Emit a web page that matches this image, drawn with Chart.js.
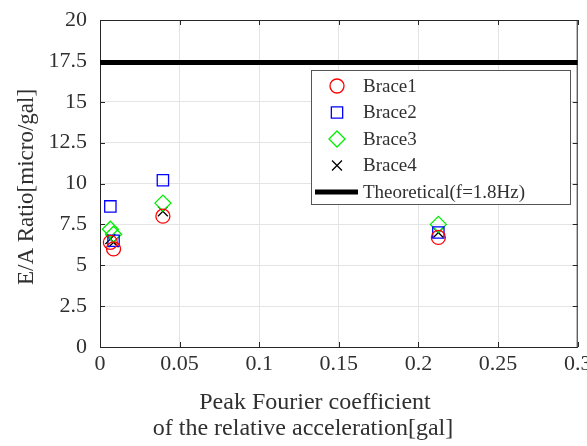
<!DOCTYPE html>
<html>
<head>
<meta charset="utf-8">
<script src="https://cdn.jsdelivr.net/npm/chart.js@4.4.1/dist/chart.umd.min.js"></script>
<style>
  body { margin: 0; background: #ffffff; }
  #wrap { width: 587px; height: 446px; }
</style>
</head>
<body>
<div id="wrap"><canvas id="myChart" width="587" height="446"></canvas></div>
<script>
// peak Fourier coefficient of each record [gal]
const peakCoef = [0.0065, 0.0085, 0.0395, 0.2125];
// E/A ratio per brace [micro/gal]
const brace1 = [6.4, 6.0, 8.0, 6.7];
const brace2 = [8.6, 6.5, 10.2, 7.0];
const brace3 = [7.2, 6.9, 8.8, 7.5];
const brace4 = [6.6, 6.4, 8.3, 7.0];
const theoretical = 17.4;
const xRange = [0, 0.3];
const seriesNames = ['Brace1', 'Brace2', 'Brace3', 'Brace4', 'Theoretical(f=1.8Hz)'];

const serif = "'Liberation Serif', 'DejaVu Serif', serif";
const textColor = '#303030';

function toPoints(ys){
    return ys.map((y, i) => ({x: peakCoef[i], y: y}));
}

function fmt(v){
    return String(+Number(v).toFixed(4));
}

// draws one marker in the same way for the legend
function marker(ctx, style, x, y, r, color){
    ctx.save();
    ctx.strokeStyle = color;
    ctx.lineWidth = 1.3;
    ctx.beginPath();
    if (style === 'circle'){
        ctx.arc(x, y, r, 0, Math.PI * 2);
    } else if (style === 'rect'){
        const s = r * Math.SQRT1_2;
        ctx.rect(x - s, y - s, 2 * s, 2 * s);
    } else if (style === 'rectRot'){
        ctx.moveTo(x - r, y); ctx.lineTo(x, y - r); ctx.lineTo(x + r, y); ctx.lineTo(x, y + r); ctx.closePath();
    } else if (style === 'crossRot'){
        const s = r * Math.SQRT1_2;
        ctx.moveTo(x - s, y - s); ctx.lineTo(x + s, y + s);
        ctx.moveTo(x - s, y + s); ctx.lineTo(x + s, y - s);
    }
    ctx.stroke();
    ctx.restore();
}

const framePlugin = {
    id: 'frame',
    beforeDatasetsDraw(chart){
        const ctx = chart.ctx;
        const a = chart.chartArea;
        const xs = chart.scales.x, ys = chart.scales.y;
        ctx.save();
        ctx.strokeStyle = '#262626';
        ctx.lineWidth = 1;
        ctx.strokeRect(a.left + 0.5, a.top + 0.5, a.right - a.left - 1, a.bottom - a.top);
        ctx.beginPath();
        xs.ticks.forEach(t => {
            const px = Math.round(xs.getPixelForValue(t.value)) + 0.5;
            ctx.moveTo(px, a.bottom); ctx.lineTo(px, a.bottom - 5);
            ctx.moveTo(px, a.top); ctx.lineTo(px, a.top + 5);
        });
        ys.ticks.forEach(t => {
            const py = Math.round(ys.getPixelForValue(t.value)) + 0.5;
            ctx.moveTo(a.left, py); ctx.lineTo(a.left + 5, py);
            ctx.moveTo(a.right, py); ctx.lineTo(a.right - 5, py);
        });
        ctx.stroke();
        ctx.restore();
    },
    afterDraw(chart){
        const ctx = chart.ctx;
        ctx.save();
        // axis titles
        ctx.fillStyle = textColor;
        ctx.font = '24px ' + serif;
        ctx.textAlign = 'center';
        ctx.textBaseline = 'middle';
        ctx.fillText('Peak Fourier coefficient', 315, 403);
        ctx.fillText('of the relative acceleration[gal]', 303, 429);
        ctx.font = '23px ' + serif;
        ctx.translate(27, 187);
        ctx.rotate(-Math.PI / 2);
        ctx.fillText('E/A Ratio[micro/gal]', 0, 0);
        ctx.restore();

        // legend box
        ctx.save();
        ctx.fillStyle = '#ffffff';
        ctx.fillRect(311, 70, 260, 135);
        ctx.strokeStyle = '#555555';
        ctx.lineWidth = 1;
        ctx.strokeRect(311.5, 70.5, 259, 134);
        ctx.font = '19px ' + serif;
        ctx.textAlign = 'left';
        ctx.textBaseline = 'middle';
        const rows = [86, 112.5, 139, 165.5, 192];
        chart.data.datasets.forEach((ds, i) => {
            const y = rows[i];
            if (ds.type === 'line'){
                ctx.fillStyle = '#000000';
                ctx.fillRect(315, y - 2.5, 43, 5);
            } else {
                marker(ctx, ds.pointStyle, 337, y, ds.pointRadius, ds.borderColor);
            }
            ctx.fillStyle = textColor;
            ctx.fillText(ds.label, 363, y + 1);
        });
        ctx.restore();
    }
};

const ctx = document.getElementById('myChart');
const myChart = new Chart(ctx, {
    type: 'scatter',
    data: {
        datasets: [{
            label: seriesNames[0],
            data: toPoints(brace1),
            pointStyle: 'circle',
            pointRadius: 7,
            borderColor: '#ff0000',
            backgroundColor: 'rgba(0,0,0,0)',
            borderWidth: 1.3
        }, {
            label: seriesNames[1],
            data: toPoints(brace2),
            pointStyle: 'rect',
            pointRadius: 8,
            borderColor: '#0000ff',
            backgroundColor: 'rgba(0,0,0,0)',
            borderWidth: 1.3
        }, {
            label: seriesNames[2],
            data: toPoints(brace3),
            pointStyle: 'rectRot',
            pointRadius: 8,
            borderColor: '#00ee00',
            backgroundColor: 'rgba(0,0,0,0)',
            borderWidth: 1.3
        }, {
            label: seriesNames[3],
            data: toPoints(brace4),
            pointStyle: 'crossRot',
            pointRadius: 7,
            borderColor: '#000000',
            backgroundColor: 'rgba(0,0,0,0)',
            borderWidth: 1.3
        }, {
            type: 'line',
            label: seriesNames[4],
            data: [{x: xRange[0], y: theoretical}, {x: xRange[1], y: theoretical}],
            borderColor: '#000000',
            borderWidth: 5,
            pointRadius: 0,
            fill: false
        }]
    },
    options: {
        responsive: false,
        animation: false,
        layout: { padding: { left: 0, right: 9, top: 20, bottom: 0 } },
        plugins: {
            legend: { display: false },
            tooltip: { enabled: false }
        },
        scales: {
            x: {
                type: 'linear',
                min: xRange[0],
                max: xRange[1],
                ticks: {
                    stepSize: 0.05,
                    callback: v => fmt(v),
                    color: textColor,
                    font: { family: serif, size: 22 },
                    padding: 4,
                    maxRotation: 0
                },
                grid: { color: '#e4e4e4', drawTicks: false },
                border: { display: false },
                afterFit(scale){
                    scale.height = 99;
                    scale.paddingLeft = 0;
                    scale.paddingRight = 0;
                }
            },
            y: {
                min: 0,
                max: 20,
                ticks: {
                    stepSize: 2.5,
                    callback: v => fmt(v),
                    color: textColor,
                    font: { family: serif, size: 22 },
                    padding: 13
                },
                grid: { color: '#e4e4e4', drawTicks: false },
                border: { display: false },
                afterFit(scale){
                    scale.width = 100;
                    scale.paddingTop = 0;
                    scale.paddingBottom = 0;
                }
            }
        }
    },
    plugins: [framePlugin]
});
</script>
</body>
</html>
